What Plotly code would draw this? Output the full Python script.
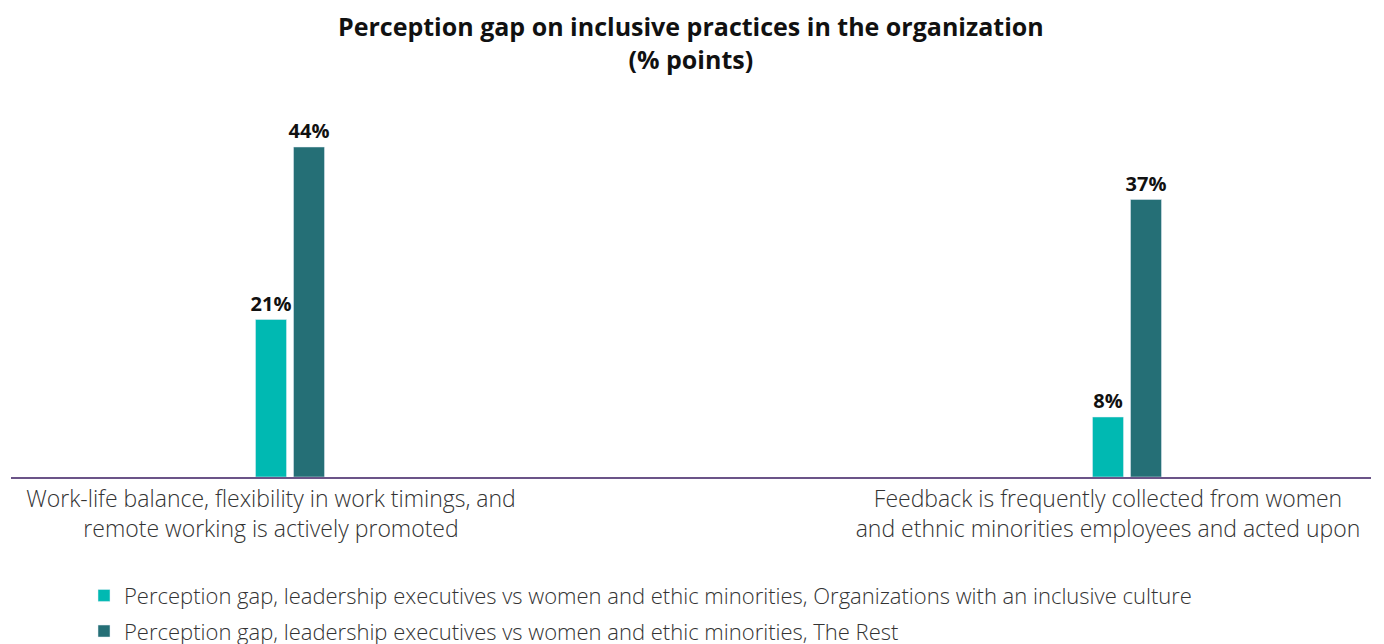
import plotly.graph_objects as go

categories = [
    "Work-life balance, flexibility in work timings, and<br>remote working is actively promoted",
    "Feedback is frequently collected from women<br>and ethnic minorities employees and acted upon",
]
series_names = [
    "Perception gap, leadership executives vs women and ethic minorities, Organizations with an inclusive culture",
    "Perception gap, leadership executives vs women and ethic minorities, The Rest",
]
inclusive_values = [21, 8]
rest_values = [44, 37]
title_text = "<b>Perception gap on inclusive practices in the organization<br>(% points)</b>"

colors = ["#00B9B2", "#256F76"]
FONT = "'Open Sans', sans-serif"

xpos = list(range(len(categories)))
bar_w = 31 / 837
gap = 38 / 837

fig = go.Figure()
for i, (name, vals, col, off) in enumerate([
    (series_names[0], inclusive_values, colors[0], -bar_w / 2),
    (series_names[1], rest_values, colors[1], -bar_w / 2 + gap),
]):
    fig.add_trace(go.Bar(
        x=xpos, y=vals, name=name, marker_color=col, width=bar_w, offset=off,
        legendgroup=f"g{i}",
        text=[f"{v}%" for v in vals], textposition="outside", cliponaxis=False,
        constraintext="none",
        textfont=dict(family=FONT, size=20, color="#111111", weight="bold"),
    ))

fig.add_annotation(
    text=title_text, xref="paper", yref="paper", x=0.5, y=1 + 58 / 377,
    xanchor="center", yanchor="middle", showarrow=False,
    font=dict(family=FONT, size=25, color="#111111"),
)

fig.update_layout(
    width=1384, height=644,
    plot_bgcolor="white", paper_bgcolor="white",
    margin=dict(l=3, r=21, t=92, b=175, autoexpand=False),
    barmode="overlay",
    showlegend=True,
    legend=dict(
        orientation="v", x=(73) / 1360, xanchor="left", y=-0.259, yanchor="top",
        font=dict(family=FONT, size=22, color="#333333", weight=300),
        itemwidth=30, tracegroupgap=4,
    ),
    font=dict(family=FONT),
)
fig.update_xaxes(
    tickmode="array", tickvals=xpos, ticktext=categories,
    range=[-260 / 837, -260 / 837 + 1360 / 837],
    showline=True, linecolor="#6B5488", linewidth=2, automargin=False,
    showgrid=False, zeroline=False, ticks="", ticklabelstandoff=0,
    tickfont=dict(family=FONT, size=23, color="#333333", weight=300),
)
fig.update_yaxes(
    range=[0, 377 / 7.5], visible=False, showgrid=False, zeroline=False,
    automargin=False,
)
fig.write_html("out.html")
